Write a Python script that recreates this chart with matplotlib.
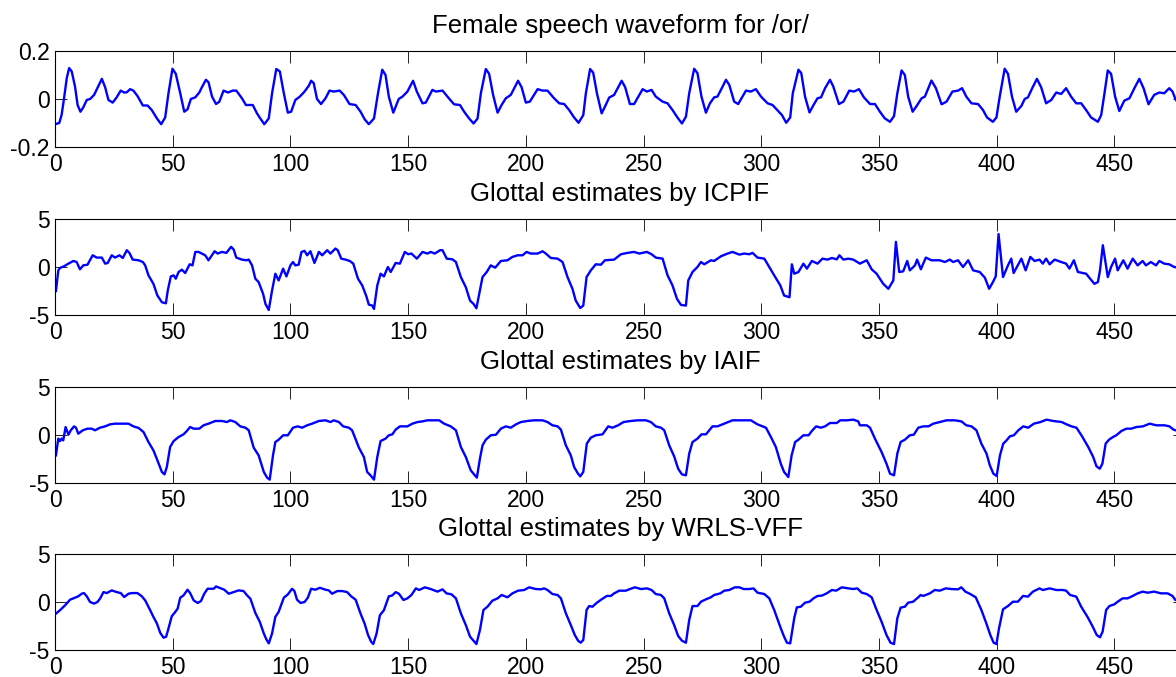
import matplotlib
matplotlib.use("Agg")
import matplotlib.pyplot as plt

plt.rcParams["font.family"] = ["Liberation Sans", "DejaVu Sans"]
plt.rcParams["axes.unicode_minus"] = False

# --- data (sample index, amplitude) ---
speech_x = [
    0, 1.8, 2.8, 3.8, 5, 6, 7.1, 8.5, 9.6, 10.8,
    12, 13.5, 14.9, 16.6, 18, 19.9, 21.3, 22.7, 24.5, 26.2,
    27.9, 29.4, 30.5, 31.9, 33.3, 35, 37.3, 39.3, 41.1, 43.3,
    45.1, 46.8, 48.2, 49.9, 51.3, 53.2, 54.9, 56.3, 57.7, 59.6,
    61.3, 62.4, 64.1, 65.2, 66.7, 68.4, 69.8, 71.6, 73.5, 75.5,
    77, 79.4, 81.1, 84, 85.8, 87.2, 88.9, 90.8, 92.2, 94,
    95.5, 97.2, 98.9, 100.3, 102.1, 104, 106, 107.8, 108.8, 109.9,
    111.3, 113, 114.9, 116.6, 118.4, 120.9, 122.7, 125.1, 127.7, 129.8,
    131.5, 133.3, 135.5, 137.2, 139, 140.4, 141.8, 143.7, 146, 147.6,
    149.7, 152.1, 153.7, 156.1, 157.5, 160.3, 161.8, 164.6, 166.7, 169.5,
    172, 173.8, 175.9, 177.8, 179.5, 180.9, 183, 184.4, 186.1, 188,
    189.7, 191.5, 193.6, 196.7, 198.2, 200, 201.7, 205, 207.1, 209.2,
    212, 214.2, 216.3, 218.4, 220.5, 222.4, 224.4, 225.5, 227.3, 228.6,
    230.2, 232.2, 233.6, 235.4, 237.5, 240.7, 242.2, 244.2, 246, 249.6,
    251.4, 253.4, 255.2, 258.1, 260.2, 262.3, 264.4, 266.3, 268, 269.4,
    271.5, 272.9, 274.6, 276.5, 278.2, 280, 281.4, 283.6, 285, 286.4,
    288.5, 290.2, 293.5, 295.6, 297.7, 299.9, 302.7, 304.8, 308.8, 310.6,
    312.3, 313.4, 315.8, 317, 318.6, 320.5, 322.2, 323.9, 325.4, 327.1,
    329.2, 330.6, 333, 334.9, 337.4, 339.4, 341.5, 343.6, 346.2, 348.3,
    350.4, 352.5, 354.7, 356.4, 357.8, 359.6, 361, 362.4, 364.3, 366,
    368.1, 369.5, 372.3, 374.2, 376.6, 378.7, 381.2, 383.6, 385.3, 387.1,
    389.3, 392.1, 394.2, 395.9, 398.4, 399.9, 401.3, 403.4, 404.8, 406.5,
    408.3, 410.5, 411.9, 413.3, 415.1, 417.1, 418.9, 421, 423.2, 425.3,
    427.4, 429.5, 431.6, 433.8, 435.9, 438, 440.1, 443, 444.4, 445.8,
    447.2, 448.6, 450.3, 452.1, 454.2, 456.4, 458.5, 460.6, 462.4, 464.5,
    466.9, 469.1, 471.2, 473.3, 474.7, 475.9, 478, 480,
]
speech_y = [
    -0.105, -0.1, -0.067, 0, 0.087, 0.129, 0.115, 0.052, -0.025, -0.053,
    -0.035, -0.004, 0, 0.017, 0.045, 0.084, 0.049, -0.004, -0.015, 0.007,
    0.035, 0.027, 0.028, 0.041, 0.035, 0.013, -0.027, -0.027, -0.046, -0.081,
    -0.105, -0.077, 0.024, 0.126, 0.105, 0.024, -0.053, -0.043, 0, 0.007,
    0.027, 0.049, 0.08, 0.07, 0.01, -0.021, -0.011, 0.035, 0.027, 0.035,
    0.035, 0.003, -0.025, -0.025, -0.06, -0.081, -0.105, -0.081, 0.024, 0.125,
    0.115, 0.024, -0.057, -0.053, -0.004, 0.01, 0.031, 0.055, 0.076, 0.066,
    0, -0.021, 0.003, 0.035, 0.031, 0.035, 0.017, -0.021, -0.025, -0.053,
    -0.084, -0.105, -0.081, 0.024, 0.122, 0.1, 0.01, -0.057, 0, 0.01,
    0.031, 0.076, 0.031, -0.018, -0.015, 0.038, 0.031, 0.035, 0.01, -0.022,
    -0.025, -0.053, -0.081, -0.102, -0.081, 0.024, 0.125, 0.105, 0.017, -0.057,
    -0.025, 0.003, 0.017, 0.076, 0.049, -0.015, -0.011, 0.041, 0.035, 0.035,
    0.003, -0.018, -0.021, -0.046, -0.077, -0.099, -0.067, 0.024, 0.125, 0.11,
    0.024, -0.06, -0.032, 0.006, 0.017, 0.076, 0.049, -0.021, -0.021, 0.041,
    0.031, 0.038, 0.01, -0.011, -0.018, -0.046, -0.077, -0.102, -0.074, 0.024,
    0.126, 0.108, 0.01, -0.057, -0.018, 0.007, 0.01, 0.052, 0.08, 0.059,
    -0.011, -0.021, 0.035, 0.031, 0.041, 0.01, -0.018, -0.025, -0.067, -0.099,
    -0.077, 0.024, 0.122, 0.108, 0.01, -0.056, -0.025, 0.003, 0.007, 0.045,
    0.08, 0.052, -0.021, -0.011, 0.035, 0.031, 0.041, 0.007, -0.021, -0.021,
    -0.053, -0.081, -0.095, -0.071, 0.024, 0.119, 0.1, 0.01, -0.053, -0.029,
    0.003, 0.01, 0.077, 0.045, -0.022, -0.011, 0.031, 0.035, 0.045, 0.01,
    -0.018, -0.021, -0.046, -0.077, -0.095, -0.077, 0.01, 0.126, 0.105, 0.01,
    -0.053, -0.029, 0, 0.007, 0.045, 0.084, 0.049, -0.018, -0.004, 0.027,
    0.021, 0.045, 0.01, -0.018, -0.018, -0.046, -0.077, -0.095, -0.067, 0.024,
    0.119, 0.105, 0.01, -0.05, -0.007, 0.003, 0.045, 0.084, 0.045, -0.022,
    0.017, 0.027, 0.024, 0.045, 0.031, 0, -0.03, -0.05,
]

icpif_x = [
    0.4, 1.4, 2.1, 3.8, 5.7, 7.8, 9.2, 10.6, 12, 13.8,
    16, 17.7, 19.9, 21.3, 22.4, 24.1, 25.5, 27.4, 28.8, 30.5,
    31.6, 33, 35.5, 37.3, 38.3, 39.7, 41.8, 43.5, 45.4, 47.1,
    47.9, 49.2, 50.4, 51.3, 52.5, 53.9, 55.3, 57.2, 58.4, 59.6,
    61, 62.4, 63.8, 65.2, 67.8, 69.1, 70.9, 72.8, 74.8, 75.9,
    77, 79.4, 81.3, 82.3, 83.7, 85.1, 86.5, 88.4, 89.4, 90.8,
    92.2, 93.6, 95, 96.9, 98.3, 100, 101.1, 102.1, 103.5, 104.7,
    106, 107.1, 108.5, 110.2, 112.1, 113.5, 115.6, 117, 119.1, 120.1,
    121.6, 123.4, 125.2, 126.7, 128.7, 130.5, 132.3, 133.3, 134.8, 135.5,
    136.9, 138.3, 139.7, 141.4, 142.6, 144.7, 146.5, 148.6, 150, 151.4,
    153.7, 156.1, 158.2, 159.6, 161.3, 163.6, 164.6, 166.4, 168.8, 170.3,
    172.4, 174.5, 176.3, 177.8, 179, 180.5, 181.6, 183.4, 185.1, 187,
    189.4, 192.2, 194.3, 196.5, 198.6, 200.3, 202.1, 205, 207.1, 208.5,
    210.6, 213.5, 215.6, 217.7, 219.8, 221.2, 223.1, 224.4, 225.8, 227.6,
    229.7, 231.9, 233.6, 237.5, 240.4, 243.2, 246, 248.2, 251.4, 253.4,
    255.2, 258.1, 260.2, 262.3, 264.2, 265.9, 268, 269, 270.8, 272.9,
    274.4, 275.8, 278.6, 280, 282.9, 285.7, 287.8, 290.7, 292.8, 294.9,
    296.3, 298.4, 301.3, 303.4, 305.5, 308.1, 309.7, 312, 313, 314,
    315.8, 317.9, 319.4, 321.5, 323.9, 326, 328.1, 330, 332.1, 333.2,
    334.9, 337, 339.1, 341.9, 344.8, 346.9, 349, 351.8, 354, 356.1,
    357.2, 358.6, 360.3, 362, 363.1, 365.3, 366.2, 367.8, 369.9, 372.3,
    375.8, 378, 380.1, 381.5, 383.6, 385.7, 387.9, 390, 392.8, 395,
    396.8, 398.4, 399.6, 400.8, 402.7, 404.8, 406.2, 407.2, 408.6, 410.5,
    412.3, 414.3, 416.1, 418.2, 419.6, 421, 422.5, 424.6, 427.4, 429.5,
    430.9, 432.8, 434.5, 438, 439.7, 441.5, 443, 443.9, 445.1, 447.2,
    448.6, 450.3, 451.4, 453.8, 455.6, 457.8, 459.9, 462, 463.4, 465.5,
    467.7, 469.1, 471.2, 473.3, 475.4, 478, 480,
]
icpif_y = [
    -2.5, -0.35, -0.1, 0.07, 0.35, 0.63, 0.52, -0.24, 0.17, 0.24,
    1.22, 0.98, 0.98, 0.35, 0.42, 1.22, 0.98, 1.22, 0.94, 1.75,
    1.47, 0.77, 0.7, 0.52, 0.17, -0.87, -1.75, -2.97, -3.67, -3.78,
    -2.45, -0.98, -0.87, -1.22, -0.52, -0.28, -0.63, 0.28, 0.17, 1.57,
    1.57, 1.4, 1.22, 0.7, 1.64, 1.4, 1.57, 1.47, 2.1, 1.82,
    0.98, 0.77, 0.7, 0.77, 0.17, -1.22, -1.57, -2.8, -3.85, -4.48,
    -2.45, -0.7, -1.4, -0.17, -0.98, 0.17, 0.52, 0.17, 0.24, 1.57,
    1.68, 1.22, 1.64, 0.42, 1.57, 1.22, 1.75, 1.4, 1.92, 1.75,
    0.87, 0.77, 0.63, 0.35, -1.22, -1.92, -3.08, -3.92, -4.02, -4.37,
    -1.92, -0.7, -0.98, 0, -0.52, 0.42, 0.35, 1.57, 1.33, 1.4,
    0.87, 1.57, 1.4, 1.57, 1.4, 1.75, 1.75, 0.87, 0.8, 0.52,
    -1.05, -2.1, -3.5, -3.85, -4.3, -2.45, -1.05, -0.52, 0.17, -0.07,
    0.63, 0.7, 1.05, 1.22, 1.22, 1.57, 1.4, 1.4, 1.64, 1.4,
    0.94, 0.87, 0.52, -1.05, -2.27, -3.5, -4.27, -4.02, -1.05, -0.35,
    0.28, 0.24, 0.7, 0.77, 1.33, 1.47, 1.57, 1.4, 1.57, 1.33,
    0.98, 0.87, -0.87, -1.92, -3.32, -3.95, -4.02, -1.4, -0.52, 0,
    0.52, 0.28, 0.7, 0.63, 1.12, 1.4, 1.57, 1.29, 1.4, 1.33,
    1.47, 0.98, 0.87, 0, -0.87, -1.92, -2.97, -3.15, 0.28, -0.7,
    -0.52, 0.35, -0.17, 0.63, 0.35, 0.87, 0.77, 0.94, 0.8, 1.22,
    0.77, 0.87, 0.77, 0.35, 0.7, -0.24, -0.7, -1.75, -2.27, -1.4,
    2.62, -0.52, -0.45, 0.63, -0.35, 0.17, 0.77, -0.24, 0.98, 0.7,
    0.7, 0.52, 0.77, 0.52, 0.7, 0, 0.7, -0.35, -0.52, -1.12,
    -2.27, -1.57, -0.98, 3.43, -1.05, 0.17, 0.87, -0.63, 0, 0.87,
    -0.35, 1.05, 0.63, 0.77, 0.35, 0.87, 0.28, 0.77, 0.52, 0.35,
    -0.17, 0.7, -0.52, -0.7, -1.22, -1.75, -1.57, -0.35, 2.27, -1.05,
    0, 0.87, -0.35, 0.7, -0.17, 0.87, 0.17, 0.63, 0.17, 0.52,
    0.17, 0.63, 0.35, 0.28, 0, -0.1, 0.1,
]

iaif_x = [
    0.4, 1.4, 2.1, 2.8, 3.5, 4.5, 5.7, 6.7, 8.1, 8.9,
    9.9, 11.8, 13.8, 15.6, 17, 19.1, 21.3, 23.4, 25.5, 28.4,
    31.2, 33.3, 35.5, 37.6, 39.7, 41.8, 43.5, 45.4, 46.5, 47.5,
    48.9, 50.4, 52.5, 54.6, 56, 57.4, 58.9, 61.3, 63.1, 65.2,
    68.1, 70.9, 73, 74.5, 76.6, 78.7, 80.9, 82.3, 84.4, 86.5,
    88.7, 90.1, 91.2, 92.6, 93.6, 95, 96.9, 98.9, 101.1, 103.1,
    105, 107.1, 109.2, 112.1, 114.9, 117, 118.4, 120.6, 122.4, 124.8,
    126.2, 129.1, 131.2, 132.6, 134, 135.5, 136.9, 138.3, 140.4, 141.8,
    143.3, 144.7, 146.5, 147.6, 149.7, 151.8, 154, 156.1, 158.2, 161,
    163.2, 165.3, 168.1, 170.3, 172.4, 174.5, 176.6, 178, 179.2, 180.5,
    181.6, 183, 185.1, 187.3, 189.4, 191.5, 193.6, 195.8, 197.9, 200.7,
    203.5, 207.1, 209.2, 211.3, 213.5, 214.9, 217, 219.1, 220.5, 222,
    223.1, 224.4, 225.9, 227.6, 229.7, 232.6, 235, 236.8, 239.2, 241.5,
    244.6, 247.5, 251, 253.1, 255.2, 257.4, 258.8, 260.9, 263, 264.7,
    266.3, 268, 269.4, 270.8, 272.9, 274.6, 276.5, 279.3, 281.4, 284.3,
    287.8, 291.3, 295.6, 298.4, 302, 304.1, 306.2, 308.3, 309.7, 311.5,
    312.9, 314.4, 315.8, 317.9, 320.1, 321.5, 323.3, 325.3, 327.1, 329.2,
    332.1, 333.5, 336.3, 339.1, 341.2, 341.9, 344.8, 346.2, 348.3, 351.1,
    353.2, 354.7, 356.4, 357.8, 359.2, 361, 363.1, 364.8, 366.7, 368.8,
    371, 373.1, 375.8, 378.7, 382.2, 385, 387.1, 389.3, 391.4, 393.5,
    395.7, 397.1, 398.6, 400, 401.4, 402.8, 404.2, 405.6, 407.3, 409.2,
    411.3, 413.4, 415.8, 418.6, 421.2, 424, 427.6, 429.7, 431.8, 433.9,
    436, 438.9, 441, 442.4, 443.8, 444.9, 446.3, 447.7, 449.4, 450.8,
    453, 455.1, 457.2, 459.3, 462.1, 465, 467.8, 471.3, 473.4, 475.1,
    476, 478, 480,
]
iaif_y = [
    -2.12, -0.38, -0.63, -0.38, -0.56, 0.83, 0.03, 0.49, 0.9, 0.76,
    0.14, 0.49, 0.66, 0.66, 0.49, 0.76, 0.9, 1.11, 1.18, 1.18,
    1.18, 0.9, 0.73, 0.31, -0.73, -1.6, -2.64, -3.85, -4.1, -3.33,
    -1.25, -0.63, -0.21, 0.07, 0.42, 0.83, 0.66, 0.66, 1.01, 1.18,
    1.46, 1.46, 1.35, 1.53, 1.35, 0.9, 0.76, 0.49, -1.32, -2.12,
    -3.85, -4.44, -4.65, -2.12, -0.73, -0.49, -0.03, -0.03, 0.76, 0.9,
    0.76, 1.01, 1.18, 1.46, 1.53, 1.35, 1.53, 1.35, 0.9, 0.76,
    0.49, -1.32, -2.29, -3.85, -4.2, -4.65, -2.29, -0.63, -0.38, -0.03,
    0.07, 0.56, 0.9, 0.9, 0.9, 1.18, 1.35, 1.42, 1.53, 1.53,
    1.53, 1.18, 0.9, 0.49, -1.25, -2.29, -3.68, -4.1, -4.44, -2.47,
    -1.08, -0.49, -0.03, 0.03, 0.66, 0.9, 0.76, 1.11, 1.35, 1.46,
    1.53, 1.53, 1.35, 1.01, 0.9, 0.56, -1.08, -2.12, -3.33, -3.96,
    -4.31, -3.85, -0.9, -0.28, -0.03, 0.07, 0.9, 0.76, 1.01, 1.35,
    1.46, 1.53, 1.53, 1.35, 0.9, 0.76, 0.49, -1.08, -2.22, -3.51,
    -4.1, -4.2, -1.94, -0.73, -0.38, 0.07, 0.07, 0.9, 0.9, 1.18,
    1.53, 1.53, 1.53, 1.11, 0.76, -0.21, -1.25, -2.99, -3.85, -4.38,
    -2.12, -0.73, -0.49, -0.03, -0.03, 0.42, 0.9, 0.76, 0.9, 1.25,
    1.25, 1.53, 1.53, 1.6, 1.42, 1.01, 1.01, 0.76, -0.38, -1.77,
    -2.99, -4.03, -4.2, -1.94, -0.73, -0.49, -0.03, 0.03, 0.76, 0.9,
    0.9, 1.18, 1.35, 1.53, 1.53, 1.42, 1.01, 0.9, 0.49, -0.9,
    -1.94, -3.16, -4.03, -4.27, -2.12, -0.9, -0.56, -0.14, -0.03, 0.49,
    0.9, 0.76, 1.18, 1.35, 1.6, 1.46, 1.35, 1.11, 0.9, 0.76,
    -0.03, -1.25, -2.29, -3.26, -3.51, -2.99, -0.9, -0.49, -0.21, -0.03,
    0.42, 0.66, 0.66, 0.83, 0.9, 1.18, 1.01, 1.01, 0.9, 0.56,
    0.49, 0.4, 0.3,
]

wrls_x = [
    0.4, 2.1, 4.3, 6.4, 8.5, 9.9, 11.3, 12.3, 13.5, 14.9,
    16.6, 18, 19.1, 20.6, 22, 24.1, 26.2, 27.9, 29.4, 31.2,
    32.6, 35, 36.9, 38.3, 40.1, 41.8, 43.3, 44.7, 46.1, 47.2,
    48.2, 49.6, 51.1, 52.1, 53.2, 54.6, 56.3, 57.4, 58.9, 60.6,
    62, 63.4, 64.8, 67.4, 68.4, 70.2, 71.9, 73.8, 75.9, 78,
    80.1, 81.6, 83, 85.1, 87, 88.7, 89.8, 90.8, 92.2, 93.6,
    95, 97.2, 98.9, 100.7, 101.7, 102.8, 104.3, 106, 107.4, 108.8,
    110.6, 112.5, 114.9, 116.3, 117.7, 119.9, 122, 124.1, 125.8, 127.7,
    129.8, 131.5, 133, 134.3, 135.2, 136.6, 138, 139.7, 141.8, 143.3,
    144.7, 146.1, 148, 149.7, 151.4, 153.3, 154.7, 157.1, 159.6, 162.5,
    164.6, 166.3, 168.4, 170.3, 172.4, 174.5, 176.3, 177.8, 179, 180.5,
    182, 183.7, 185.8, 188, 189.7, 192.2, 194.3, 196.7, 199.3, 201.4,
    204.2, 206.4, 207.8, 209.2, 211.3, 213.5, 214.9, 217, 219.1, 220.8,
    222.2, 223.3, 224.4, 225.8, 226.9, 228.3, 230.2, 232.2, 234.4, 236.1,
    237.5, 239.7, 242.5, 243.9, 246.3, 248.9, 251.4, 253.4, 255.2, 257.4,
    258.8, 260.9, 263, 264.7, 266.3, 268, 269.4, 270.8, 272.9, 274.4,
    276.5, 278.6, 280, 282.6, 284.3, 286.4, 288.8, 290.7, 292.5, 294.9,
    296.7, 298.4, 301.3, 303.4, 305.5, 308.3, 309.7, 310.9, 312.3, 314,
    315.1, 316.8, 318.6, 320.5, 322.2, 323.9, 325.7, 327.8, 330, 331.8,
    334.2, 337, 339.1, 340.8, 342.7, 344.8, 346.9, 349, 351.1, 353.2,
    354.9, 356.4, 357.8, 359.2, 361, 362.4, 364.5, 366.7, 367.7, 368.8,
    371.6, 373.7, 375.8, 378.4, 380.8, 383.6, 385, 386.7, 388.8, 391.1,
    393.5, 395.6, 397.3, 398.7, 399.9, 401, 402.7, 404.8, 406.9, 409,
    411.2, 413.3, 415.4, 418.2, 419.6, 422.5, 425.3, 428.1, 429.5, 431.2,
    433.8, 435.9, 438.7, 440.8, 442.5, 443.9, 445, 446.5, 447.9, 450,
    451.4, 453.5, 455.6, 457.8, 459.9, 462, 464.1, 466.9, 469.8, 472.6,
    474.7, 475.9, 478, 480,
]
wrls_y = [
    -1.21, -0.86, -0.34, 0.24, 0.45, 0.59, 0.86, 0.93, 0.59, 0,
    -0.17, 0, 0.34, 1.03, 0.93, 1.21, 1.03, 0.93, 0.52, 0.86,
    0.93, 0.93, 0.59, 0.17, -0.69, -1.55, -2.24, -3.21, -3.72, -3.62,
    -2.76, -1.48, -1.03, -0.69, 0.45, 0.69, 1.28, 0.93, 0.17, -0.1,
    0.1, 0.86, 1.38, 1.38, 1.62, 1.45, 1.28, 0.86, 1.03, 1.21,
    1.14, 0.69, 0.34, -1.14, -2.07, -3.28, -3.9, -4.31, -3.28, -1.55,
    -1.03, 0.45, 0.79, 1.38, 1.14, 0.24, -0.1, 0, 0.45, 1.38,
    1.28, 1.48, 1.28, 1.21, 0.86, 1.14, 1.14, 1.03, 0.59, 0.24,
    -1.21, -2.24, -3.45, -4.14, -4.38, -3.28, -1.38, -0.86, 0.59, 0.69,
    1.03, 0.86, 0.21, 0.38, 0.73, 1.42, 1.25, 1.53, 1.35, 1.08,
    1.32, 0.9, 0.8, 0.38, -1.18, -2.4, -3.61, -4.03, -4.38, -2.92,
    -0.83, -0.49, 0.14, 0.38, 0.73, 0.49, 0.9, 1.18, 1.25, 1.53,
    1.35, 1.32, 1.42, 1.25, 0.83, 0.73, 0.38, -1.18, -2.4, -3.44,
    -4.03, -4.24, -3.96, -0.83, -0.42, -0.49, -0.07, 0.28, 0.63, 0.63,
    0.9, 1.18, 1.18, 1.32, 1.53, 1.35, 1.42, 1.25, 0.83, 0.73,
    0.38, -1.18, -2.4, -3.54, -4.03, -4.24, -1.88, -0.42, -0.42, 0.03,
    0.28, 0.49, 0.73, 0.9, 1.18, 1.25, 1.53, 1.53, 1.35, 1.35,
    1.42, 0.97, 0.83, 0.38, -0.83, -2.74, -3.61, -4.24, -4.31, -1.7,
    -0.56, -0.49, -0.07, 0.03, 0.38, 0.63, 0.66, 0.9, 1.25, 1.18,
    1.53, 1.42, 1.35, 1.42, 0.97, 0.83, 0.49, -0.83, -2.05, -3.44,
    -4.24, -4.38, -1.7, -0.59, -0.49, -0.07, 0.03, 0.49, 0.73, 0.63,
    0.9, 1.25, 1.18, 1.42, 1.35, 1.32, 1.53, 1.08, 0.83, 0.49,
    -0.83, -2.22, -3.44, -4.24, -4.38, -2.74, -0.76, -0.42, 0.03, 0.03,
    0.63, 0.56, 1.08, 1.42, 1.25, 1.42, 1.25, 1.25, 1.18, 0.73,
    0.56, -0.49, -1.6, -2.57, -3.44, -3.68, -3.09, -0.83, -0.42, -0.24,
    0.03, 0.38, 0.38, 0.63, 0.9, 1.08, 0.97, 1.08, 0.9, 0.9,
    0.63, 0.21, 0.3, 0.4,
]

titles = [
    "Female speech waveform for /or/",
    "Glottal estimates by ICPIF",
    "Glottal estimates by IAIF",
    "Glottal estimates by WRLS-VFF",
]
series = [(speech_x, speech_y), (icpif_x, icpif_y), (iaif_x, iaif_y), (wrls_x, wrls_y)]
ylims = [(-0.2, 0.2), (-5, 5), (-5, 5), (-5, 5)]
ytick_vals = [[-0.2, 0, 0.2], [-5, 0, 5], [-5, 0, 5], [-5, 0, 5]]
ytick_text = [["-0.2", "0", "0.2"], ["-5", "0", "5"], ["-5", "0", "5"], ["-5", "0", "5"]]
xtick_vals = list(range(0, 451, 50))

W, H = 1176, 677
fig = plt.figure(figsize=(W / 100, H / 100), dpi=100)

# axes boxes in pixels (the right edge runs slightly past the picture, as in the reference)
ax_left, ax_width, ax_height = 55, 1130, 96
ax_tops = [51, 219, 387, 554]

for i in range(4):
    top = ax_tops[i]
    ax = fig.add_axes([ax_left / W, 1 - (top + ax_height) / H, ax_width / W, ax_height / H])
    x, y = series[i]
    ax.plot(x, y, color=(0, 0, 1), linewidth=1.7)
    ax.set_xlim(0, 480)
    ax.set_ylim(*ylims[i])
    ax.set_xticks(xtick_vals)
    ax.set_xticklabels([str(v) for v in xtick_vals])
    ax.set_yticks(ytick_vals[i])
    ax.set_yticklabels(ytick_text[i])
    ax.tick_params(direction="in", top=True, right=True, length=8.5, width=0.6,
                   labelsize=16.5, colors="black")
    ax.tick_params(axis="x", pad=4)
    ax.tick_params(axis="y", pad=4)
    for sp in ax.spines.values():
        sp.set_linewidth(0.8)
    ax.set_title(titles[i], fontsize=18.5, pad=13)

fig.savefig("out.png", dpi=100)
